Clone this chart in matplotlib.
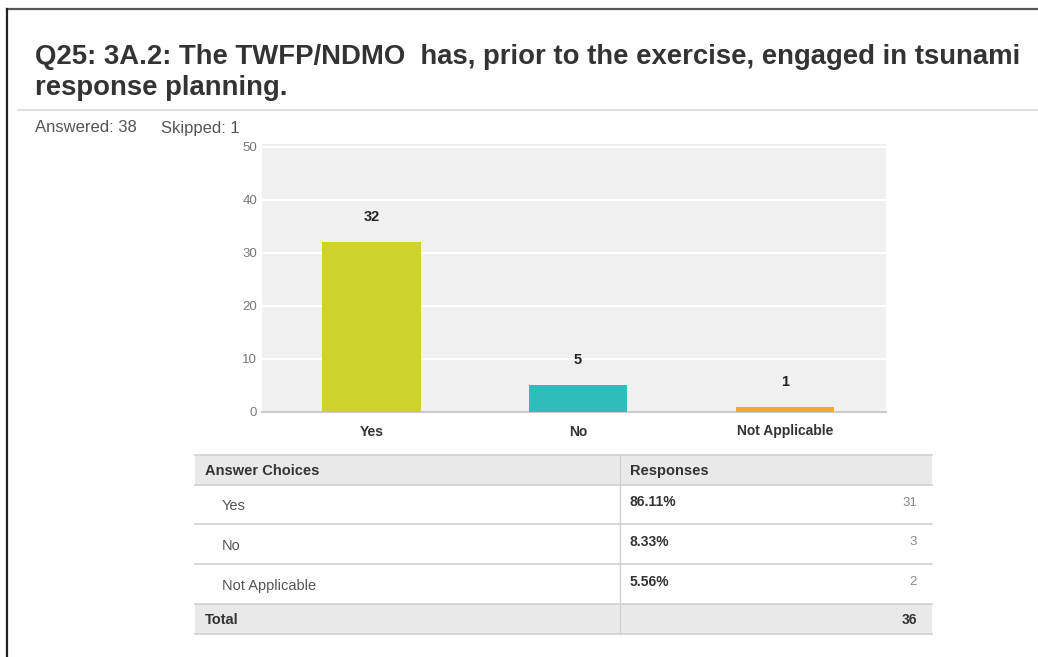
import matplotlib
matplotlib.use("Agg")
import matplotlib.pyplot as plt
from matplotlib.patches import Rectangle

# ---- data ----
title_lines = ["Q25: 3A.2: The TWFP/NDMO  has, prior to the exercise, engaged in tsunami",
               "response planning."]
answered = 38
skipped = 1
categories = ["Yes", "No", "Not Applicable"]
bar_counts = [32, 5, 1]
bar_colors = ["#cdd32a", "#2fbcba", "#f3a630"]
y_ticks = [0, 10, 20, 30, 40, 50]
table_choices = ["Yes", "No", "Not Applicable"]
table_pcts = ["86.11%", "8.33%", "5.56%"]
table_counts = [31, 3, 2]
table_total = 36

plt.rcParams["font.family"] = ["Liberation Sans", "DejaVu Sans"]

W, H = 1038, 657
fig = plt.figure(figsize=(W / 100, H / 100), dpi=100)
fig.patch.set_facecolor("white")

# overlay in pixel coordinates for page furniture
page = fig.add_axes([0, 0, 1, 1])
page.set_xlim(0, W)
page.set_ylim(H, 0)
page.axis("off")

# frame lines
page.plot([7, W], [9, 9], color="#555555", lw=1.6)
page.plot([7, 7], [9, H], color="#222222", lw=1.6)
page.plot([18, W], [110, 110], color="#d8d8d8", lw=1.2)

# title
for i, line in enumerate(title_lines):
    page.text(35, 57 + 31 * i, line, fontsize=19.8, fontweight="bold", color="#333333",
              va="center", ha="left")
page.text(35, 128, f"Answered: {answered}", fontsize=12, color="#555555",
          va="center", ha="left")
page.text(161, 128, f"Skipped: {skipped}", fontsize=12, color="#555555",
          va="center", ha="left")

# ---- bar chart ----
ax_l, ax_r, ax_t, ax_b = 262, 886, 144, 412
ax = fig.add_axes([ax_l / W, 1 - ax_b / H, (ax_r - ax_l) / W, (ax_b - ax_t) / H])
ax.set_facecolor("#f0f0f0")
x = list(range(len(categories)))
ax.bar(x, bar_counts, width=0.475, color=bar_colors, zorder=3)
ax.set_xlim(-0.53, 2.49)
ax.set_ylim(0, 50.5)
ax.set_yticks(y_ticks)
ax.yaxis.grid(True, color="white", lw=1.5, zorder=1)
ax.set_axisbelow(True)
for s in ["top", "right", "left"]:
    ax.spines[s].set_visible(False)
ax.spines["bottom"].set_color("#cccccc")
ax.spines["bottom"].set_linewidth(1.5)
ax.tick_params(axis="y", length=0, labelsize=9.5, labelcolor="#777777", pad=3.5)
ax.tick_params(axis="x", length=0, labelsize=10, pad=9)
ax.set_xticks(x)
ax.set_xticklabels(categories, fontweight="bold", color="#333333")
for xi, v in zip(x, bar_counts):
    ax.annotate(str(v), (xi, v), xytext=(0, 18), textcoords="offset points",
                ha="center", va="center", fontsize=10.5, fontweight="bold", color="#222222")

# ---- response table ----
tl, tr, tdiv = 195, 932, 620
rows = [455, 485, 524, 564, 604, 634]
page.add_patch(Rectangle((tl, rows[0]), tr - tl, rows[1] - rows[0], color="#e9e9e9", lw=0))
page.add_patch(Rectangle((tl, rows[4]), tr - tl, rows[5] - rows[4], color="#e9e9e9", lw=0))
for yy in rows:
    page.plot([tl, tr], [yy, yy], color="#cfcfcf", lw=1.2)
page.plot([tdiv, tdiv], [rows[0], rows[5]], color="#d0d0d0", lw=1.0)

hy = (rows[0] + rows[1]) / 2
page.text(205, hy + 1, "Answer Choices", fontsize=10.5, fontweight="bold", color="#333333", va="center")
page.text(630, hy + 1, "Responses", fontsize=10.5, fontweight="bold", color="#333333", va="center")
for i, (c, p, n) in enumerate(zip(table_choices, table_pcts, table_counts)):
    cy = (rows[i + 1] + rows[i + 2]) / 2
    page.text(222, cy + 2, c, fontsize=10.5, color="#555555", va="center")
    page.text(630, cy - 2, p, fontsize=10, fontweight="bold", color="#333333", va="center")
    page.text(917, cy - 2, str(n), fontsize=9.5, color="#888888", va="center", ha="right")
ty = (rows[4] + rows[5]) / 2
page.text(205, ty + 1, "Total", fontsize=10.5, fontweight="bold", color="#333333", va="center")
page.text(917, ty + 1, str(table_total), fontsize=10, fontweight="bold", color="#333333",
          va="center", ha="right")

fig.savefig("out.png", dpi=100, facecolor="white")
